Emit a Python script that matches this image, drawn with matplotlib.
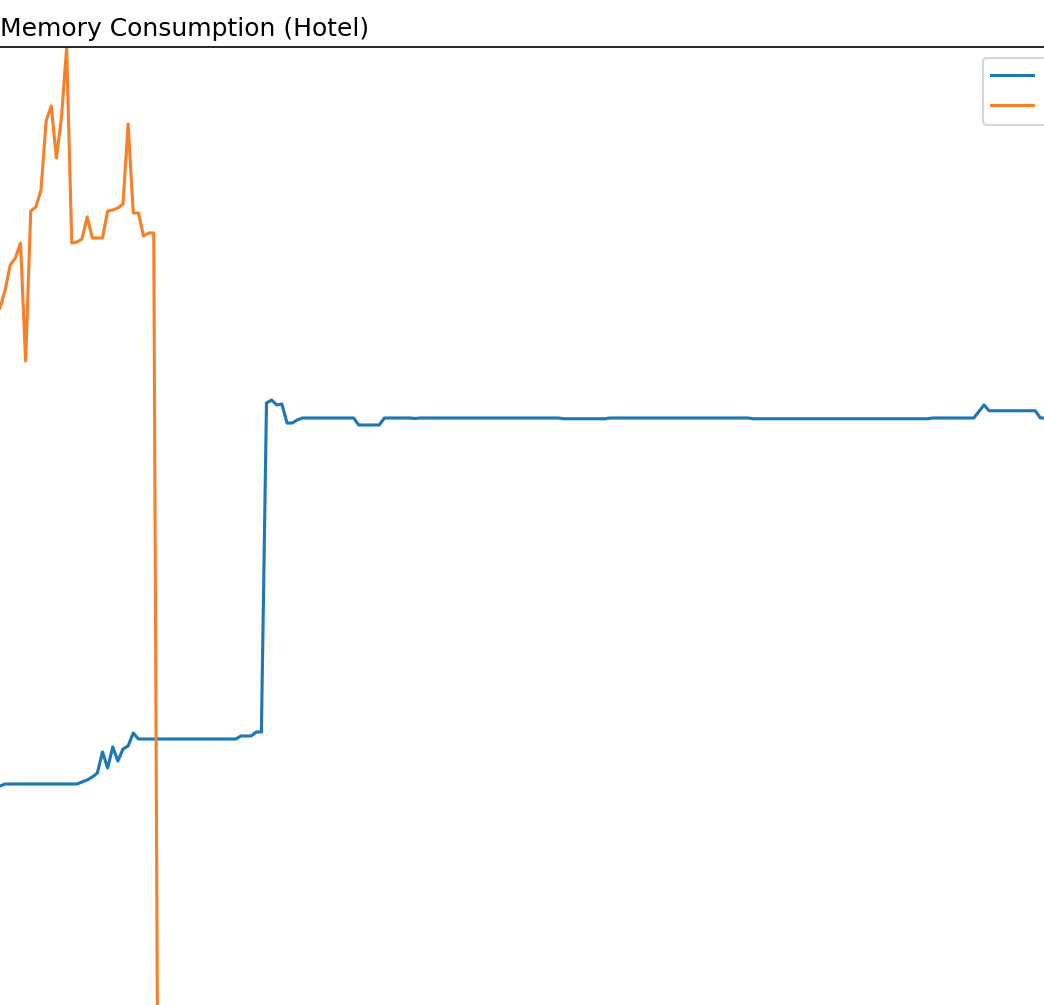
import matplotlib
matplotlib.use("Agg")
import matplotlib.pyplot as plt
import numpy as np

# memory readings (MB), one sample per step
blue_mb = ([221.6] + [222.4] * 15 + [223.2, 224.0, 225.2, 226.8, 235.2, 228.8, 237.2,
           231.6, 236.4, 237.6, 242.8] + [240.4] * 20 + [241.6] * 3 + [243.2] * 2 +
           [374.8, 376.0, 374.0, 374.4, 366.8, 366.8, 368.0] + [368.8] * 11 +
           [366.0] * 5 + [368.8] * 6 + [368.6] + [368.8] * 28 + [368.5] * 9 +
           [368.8] * 28 + [368.5] * 35 + [368.8] * 9 + [371.4, 374.0] +
           [371.7] * 10 + [368.8] * 4)
orange_mb = [412.8, 420.0, 430.0, 432.8, 438.8, 391.6, 451.6, 453.2, 460.0, 487.6,
             493.6, 472.8, 489.2, 516.8, 438.8, 439.2, 440.4, 449.2, 440.8, 440.8,
             440.8, 451.6, 452.0, 452.8, 454.4, 486.4, 450.8, 450.8, 441.6, 442.8,
             442.8, 0.0]
labels = ["Container", "Serverless"]

blue_t = np.arange(len(blue_mb))
orange_t = np.arange(len(orange_mb))

W, H, dpi = 1044, 1005, 150
fig = plt.figure(figsize=(W / dpi, H / dpi), dpi=dpi)

# the visible picture is only a window onto a larger axes
left_px, right_px, top_px, bottom_px = -60, 1120, 47, 1400
ax = fig.add_axes([left_px / W, 1 - bottom_px / H,
                   (right_px - left_px) / W, (bottom_px - top_px) / H])

ax.plot(blue_t, blue_mb, color="#1f77b4", lw=1.5, label=labels[0])
ax.plot(orange_t, orange_mb, color="#f7802a", lw=1.5, label=labels[1])

step = 5.125
ax.set_xlim(left_px / step, right_px / step)
ax.set_ylim((1340 - bottom_px) * 0.4, (1340 - top_px) * 0.4)
ax.set_xticks([])
ax.set_yticks([])

ax.legend(loc="upper left", bbox_to_anchor=(983 / W, 1 - 58 / H),
          bbox_transform=fig.transFigure, borderaxespad=0, fontsize=10)

fig.text(0.0, 1 - 36 / H, "Memory Consumption (Hotel)", fontsize=12,
         ha="left", va="baseline")

fig.savefig("out.png", dpi=dpi)
